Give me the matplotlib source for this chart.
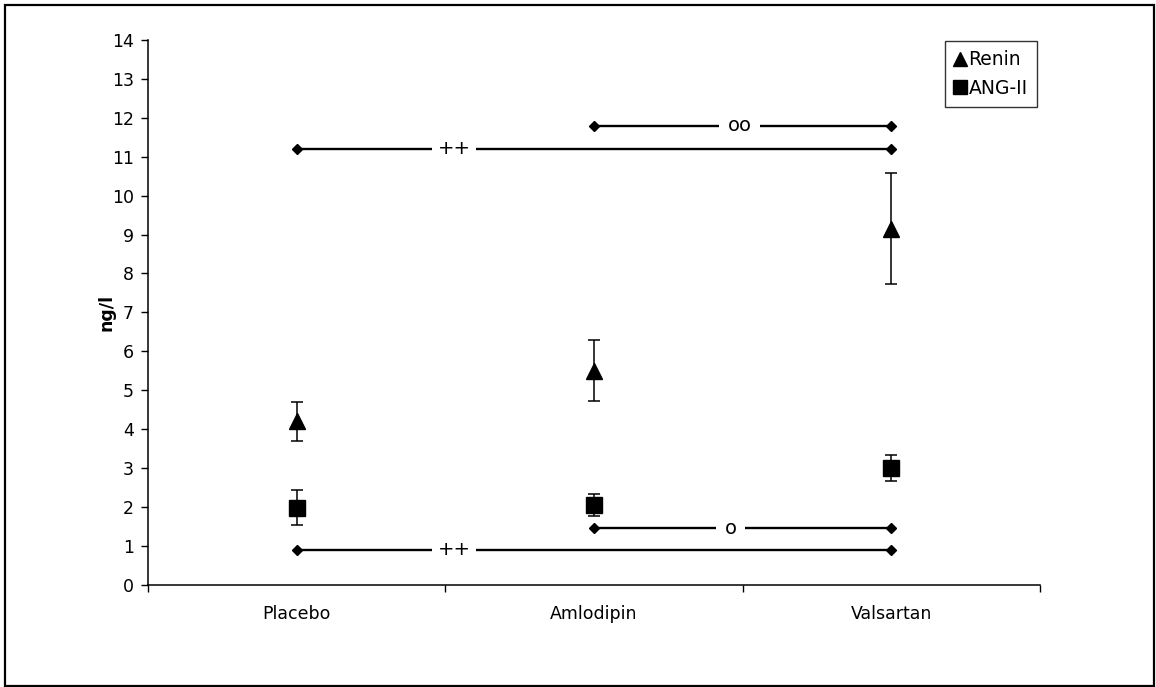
import matplotlib
matplotlib.use("Agg")
import matplotlib.pyplot as plt
from matplotlib.patches import Rectangle

plt.rcParams['font.family'] = ['DejaVu Sans']

categories = ["Placebo", "Amlodipin", "Valsartan"]
renin = [4.2, 5.5, 9.15]
renin_err = [0.5, 0.78, 1.42]
ang2 = [1.98, 2.05, 3.0]
ang2_err = [0.45, 0.29, 0.33]

# significance brackets: (start category idx, end category idx, y, label, label x)
sig_lines = [
    (0, 2, 11.2, "++", 1.03),
    (1, 2, 11.8, "oo", 1.99),
    (1, 2, 1.45, "o", 1.96),
    (0, 2, 0.9, "++", 1.03),
]

fig = plt.figure(figsize=(11.56, 6.87), dpi=100)
ax = fig.add_axes([148/1156, 1-584.6/687, (1040-148)/1156, (584.6-40)/687])

xpos = [i + 0.5 for i in range(len(categories))]

for (i0, i1, y, lab, lx) in sig_lines:
    ax.plot([xpos[i0], xpos[i1]], [y, y], color='black', lw=1.7,
            marker='D', markersize=5, zorder=2)
    ax.text(lx, y, lab, ha='center', va='center', fontsize=14,
            bbox=dict(facecolor='white', edgecolor='none',
                      pad=4 if lab == "++" else 6), zorder=3)

ax.errorbar(xpos, renin, yerr=renin_err, fmt='^', color='black',
            markersize=11.5, capsize=4, elinewidth=1.1, capthick=1.1,
            label='Renin', zorder=4)
ax.errorbar(xpos, ang2, yerr=ang2_err, fmt='s', color='black',
            markersize=11, capsize=4, elinewidth=1.1, capthick=1.1,
            label='ANG-II', zorder=4)

ax.set_xlim(0, 3)
ax.set_ylim(0, 14)
ax.set_yticks(range(0, 15))
ax.set_xticks([0, 1, 2, 3])
ax.set_xticklabels([])
ax.set_xticks(xpos, minor=True)
ax.set_xticklabels(categories, minor=True, fontsize=12.5)
ax.tick_params(axis='x', which='minor', length=0, pad=15)
ax.tick_params(axis='x', which='major', length=5, width=1, direction='out')
ax.tick_params(axis='y', length=5, width=1, direction='out', labelsize=12.5, pad=5)

for s in ['top', 'right']:
    ax.spines[s].set_visible(False)
for s in ['left', 'bottom']:
    ax.spines[s].set_linewidth(1.1)

ax.set_ylabel('ng/l', fontsize=12.5, fontweight='bold')
ax.yaxis.set_label_coords(-0.036, 0.5)

handles, labels = ax.get_legend_handles_labels()
handles = [h[0] for h in handles]
leg = ax.legend(handles, labels, loc='upper right', bbox_to_anchor=(0.9966, 0.998),
                borderaxespad=0, fontsize=13.5, frameon=True, fancybox=False,
                edgecolor='black', handlelength=0.6, handletextpad=0.15,
                borderpad=0.5, labelspacing=0.5, markerscale=0.9)
leg.get_frame().set_linewidth(1.0)

fig.patches.append(Rectangle((5/1156, 1/687), 1149/1156, 681/687,
                             transform=fig.transFigure, fill=False,
                             edgecolor='black', linewidth=1.6))

fig.savefig('out.png', dpi=100)
